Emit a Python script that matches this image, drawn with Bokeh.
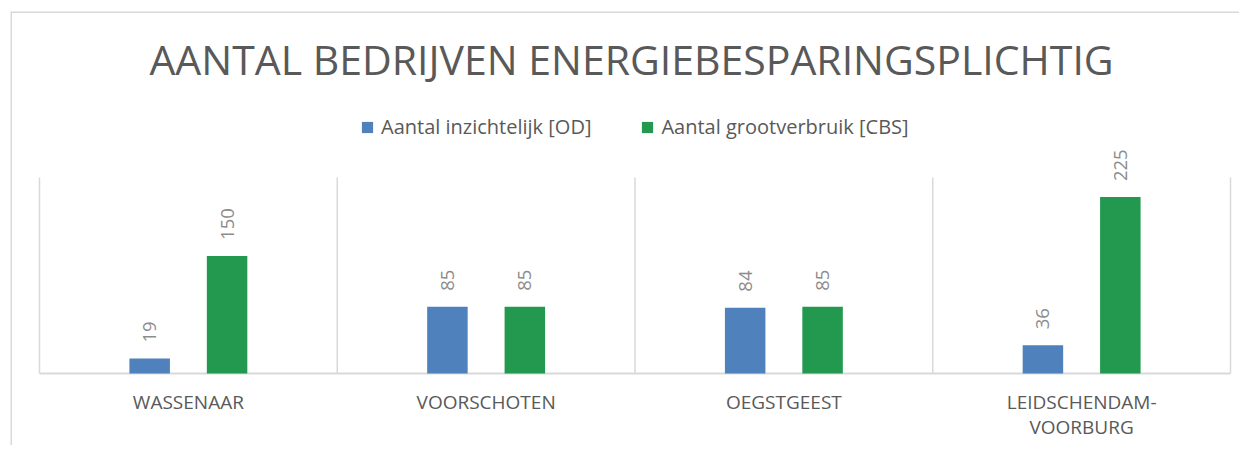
import numpy as np
from bokeh.plotting import figure
from bokeh.models import Range1d, Label, Legend, LegendItem, ColumnDataSource, Span
from bokeh.core.properties import value
from bokeh.embed import file_html
from bokeh.resources import INLINE

# ---- data ----
title = "AANTAL BEDRIJVEN ENERGIEBESPARINGSPLICHTIG"
categories = ["Wassenaar", "Voorschoten", "Oegstgeest", "Leidschendam-Voorburg"]
series_names = ["Aantal inzichtelijk [OD]", "Aantal grootverbruik [CBS]"]
inzichtelijk_od = [19, 85, 84, 36]
grootverbruik_cbs = [150, 85, 85, 225]
y_max = 250

# ---- styles ----
BLUE = "#4F81BD"
GREEN = "#22994F"
TXT = "#595959"
LBL = "#8C8C8C"
GRID = "#D9D9D9"
FONT = "Open Sans"

W, H = 1229, 434
cat_px = 297.75
left_pad_px, right_pad_px = 29, 9
bottom_px = 72
px_per_unit = 0.784

x = np.arange(len(categories), dtype=float)
x0 = -0.5 - left_pad_px / cat_px
x1 = len(categories) - 0.5 + right_pad_px / cat_px
y0 = -bottom_px / px_per_unit
y1 = (H - bottom_px) / px_per_unit

p = figure(width=W, height=H, x_range=Range1d(x0, x1), y_range=Range1d(y0, y1),
           output_backend="svg", toolbar_location=None, min_border=0,
           tools="")
p.margin = (11, 0, 0, 10)
p.xaxis.visible = False
p.yaxis.visible = False
p.xgrid.visible = False
p.ygrid.visible = False
p.outline_line_color = None
p.background_fill_color = "white"
p.border_fill_color = "white"

# chart border (top and left; the rest lies beyond the window in the reference)
p.add_layout(Span(location=x0, dimension="height", line_color=GRID, line_width=3))
p.add_layout(Span(location=y1, dimension="width", line_color=GRID, line_width=3))

# category separators and baseline
sep_x = np.arange(len(categories) + 1) - 0.5
p.segment(x0=sep_x, y0=[0] * len(sep_x), x1=sep_x, y1=[y_max] * len(sep_x),
          line_color=GRID, line_width=1.5)
p.segment(x0=[sep_x[0]], y0=[0], x1=[sep_x[-1]], y1=[0], line_color=GRID, line_width=2)

off, bw = 0.13, 0.136
src = ColumnDataSource(dict(xb=x - off, xg=x + off, od=inzichtelijk_od, cbs=grootverbruik_cbs,
                            od_t=[str(v) for v in inzichtelijk_od],
                            cbs_t=[str(v) for v in grootverbruik_cbs]))
r1 = p.vbar(x="xb", top="od", bottom=0, width=bw, color=BLUE, line_color=None, source=src)
r2 = p.vbar(x="xg", top="cbs", bottom=0, width=bw, color=GREEN, line_color=None, source=src)

for xs, ts in (("xb", "od"), ("xg", "cbs")):
    p.text(x=xs, y=ts, text=ts + "_t", source=src, angle=np.pi / 2, y_offset=-16,
           text_align="left", text_baseline="middle", text_color=LBL,
           text_font=value(FONT), text_font_size="18.5px")

labels = [c.upper().replace("-", "-\n") for c in categories]
p.text(x=x, y=[0] * len(x), text=labels, y_offset=15, text_align="center",
       text_baseline="top", text_color=TXT, text_font=value(FONT),
       text_font_size="19px", text_line_height=0.98)

p.add_layout(Label(x=(x0 + x1) / 2 + 0.022, y=(373 - 58) / px_per_unit, text=title,
                   text_align="center", text_baseline="middle", text_color=TXT,
                   text_font=FONT, text_font_size="41px"))

legend = Legend(items=[LegendItem(label=series_names[0], renderers=[r1]),
                       LegendItem(label=series_names[1], renderers=[r2])],
                orientation="horizontal", location=(350, 305),
                glyph_width=14, glyph_height=14, label_standoff=7, spacing=49,
                padding=0, margin=0, border_line_color=None, background_fill_alpha=0,
                label_text_font=FONT, label_text_font_size="20px", label_text_color=TXT)
p.add_layout(legend, "center")

open("out.html", "w").write(file_html(p, INLINE))
